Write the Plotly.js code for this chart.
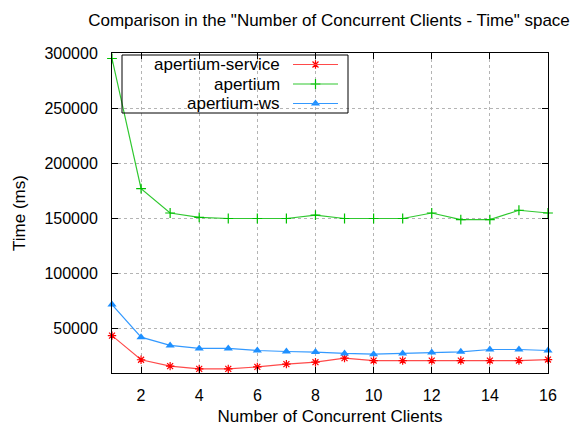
<!DOCTYPE html>
<html>
<head>
<meta charset="utf-8">
<script src="https://cdn.plot.ly/plotly-3.0.1.min.js"></script>
<style>html,body{margin:0;padding:0;background:#fff;}#chart{width:571px;height:428px;}</style>
</head>
<body>
<div id="chart"></div>
<script>
const clients = [1,2,3,4,5,6,7,8,9,10,11,12,13,14,15,16];
const apertiumService = [43900,22000,16200,13700,13700,15500,18000,19800,23500,21300,21300,21300,21300,21300,21300,22200];
const apertium = [295000,177000,155000,151000,150000,150000,150000,153000,150000,150000,150000,155000,149000,149000,157500,155000];
const apertiumWs = [72000,42500,35000,32300,32300,30400,29500,29000,27700,27100,27700,28600,29200,31300,31300,30400];
const seriesNames = ['apertium-service','apertium','apertium-ws'];
const xTicks = [2,4,6,8,10,12,14,16];
const yTicks = [50000,100000,150000,200000,250000,300000];

const FONT = 'Liberation Sans, Arial, sans-serif';
const RED = '#ff0000', GREEN = '#00c000', BLUE = '#1e90ff';

// plot area in pixels
const L = 112, R = 548, T = 53, B = 373;
const px = x => (x - L) / (R - L);
const py = y => (B - y) / (B - T);

const styles = [
  {line: '#ff4a4a', marker: {symbol: 'asterisk-open', size: 7, color: RED, line: {color: RED, width: 1.2}}},
  {line: '#30c830', marker: {symbol: 'cross-thin-open', size: 7, color: GREEN, line: {color: GREEN, width: 1.2}}},
  {line: '#3399ff', marker: {symbol: 'triangle-up', size: 8, color: BLUE, line: {width: 0}}}
];
const values = [apertiumService, apertium, apertiumWs];

const traces = values.map((v, i) => ({
  x: clients, y: v, type: 'scatter', mode: 'lines+markers', name: seriesNames[i],
  line: {color: styles[i].line, width: 1.2}, marker: styles[i].marker,
  showlegend: false, cliponaxis: false
}));

// custom legend (text left, sample on right like gnuplot)
const legY = [64.5, 84, 103.5];
const legMarkers = styles.map((s, i) => ({
  x: [315.5], y: [legY[i]], xaxis: 'x2', yaxis: 'y2', type: 'scatter', mode: 'markers',
  marker: s.marker, showlegend: false, hoverinfo: 'skip'
}));

const shapes = [
  {type: 'rect', xref: 'paper', yref: 'paper', x0: px(122), x1: px(348), y0: py(113), y1: py(55),
   line: {color: '#000', width: 1}, fillcolor: 'rgba(0,0,0,0)'}
];
const annotations = [];
styles.forEach((s, i) => {
  shapes.push({type: 'line', xref: 'paper', yref: 'paper', x0: px(293), x1: px(338), y0: py(legY[i]), y1: py(legY[i]),
    line: {color: s.line, width: 1.2}});
  annotations.push({xref: 'paper', yref: 'paper', x: px(282), y: py(legY[i]), xanchor: 'right', yanchor: 'middle',
    text: seriesNames[i], showarrow: false, font: {family: FONT, size: 17, color: '#000'}});
});

const layout = {
  width: 571, height: 428,
  margin: {l: L, r: 571 - R, t: T, b: 428 - B, pad: 0},
  paper_bgcolor: '#fff', plot_bgcolor: '#fff',
  font: {family: FONT, size: 16, color: '#000'},
  title: {text: 'Comparison in the "Number of Concurrent Clients - Time" space',
    font: {family: FONT, size: 17, color: '#000'}, x: px(329), xref: 'paper', xanchor: 'center', y: 0.953, yanchor: 'middle'},
  xaxis: {
    range: [1, 16], tickvals: xTicks, ticktext: xTicks.map(String),
    showgrid: true, gridcolor: '#b4b4b4', griddash: 'dot', gridwidth: 1,
    showline: true, linecolor: '#000', linewidth: 1, mirror: 'allticks',
    ticks: 'inside', ticklen: 6, tickcolor: '#000', tickwidth: 1, zeroline: false,
    tickfont: {family: FONT, size: 16}, ticklabelstandoff: 8,
    title: {text: 'Number of Concurrent Clients', font: {family: FONT, size: 17}, standoff: 6}
  },
  yaxis: {
    range: [10000, 300000], tickvals: yTicks, ticktext: yTicks.map(String),
    showgrid: true, gridcolor: '#b4b4b4', griddash: 'dot', gridwidth: 1,
    showline: true, linecolor: '#000', linewidth: 1, mirror: 'allticks',
    ticks: 'inside', ticklen: 6, tickcolor: '#000', tickwidth: 1, zeroline: false,
    tickfont: {family: FONT, size: 16}, ticklabelstandoff: 10,
    title: {text: 'Time (ms)', font: {family: FONT, size: 17}, standoff: 14}
  },
  xaxis2: {overlaying: 'x', range: [L, R], visible: false, fixedrange: true},
  yaxis2: {overlaying: 'y', range: [B, T], visible: false, fixedrange: true},
  shapes: shapes, annotations: annotations, showlegend: false
};

Plotly.newPlot('chart', traces.concat(legMarkers), layout, {staticPlot: true, displayModeBar: false});
</script>
</body>
</html>
